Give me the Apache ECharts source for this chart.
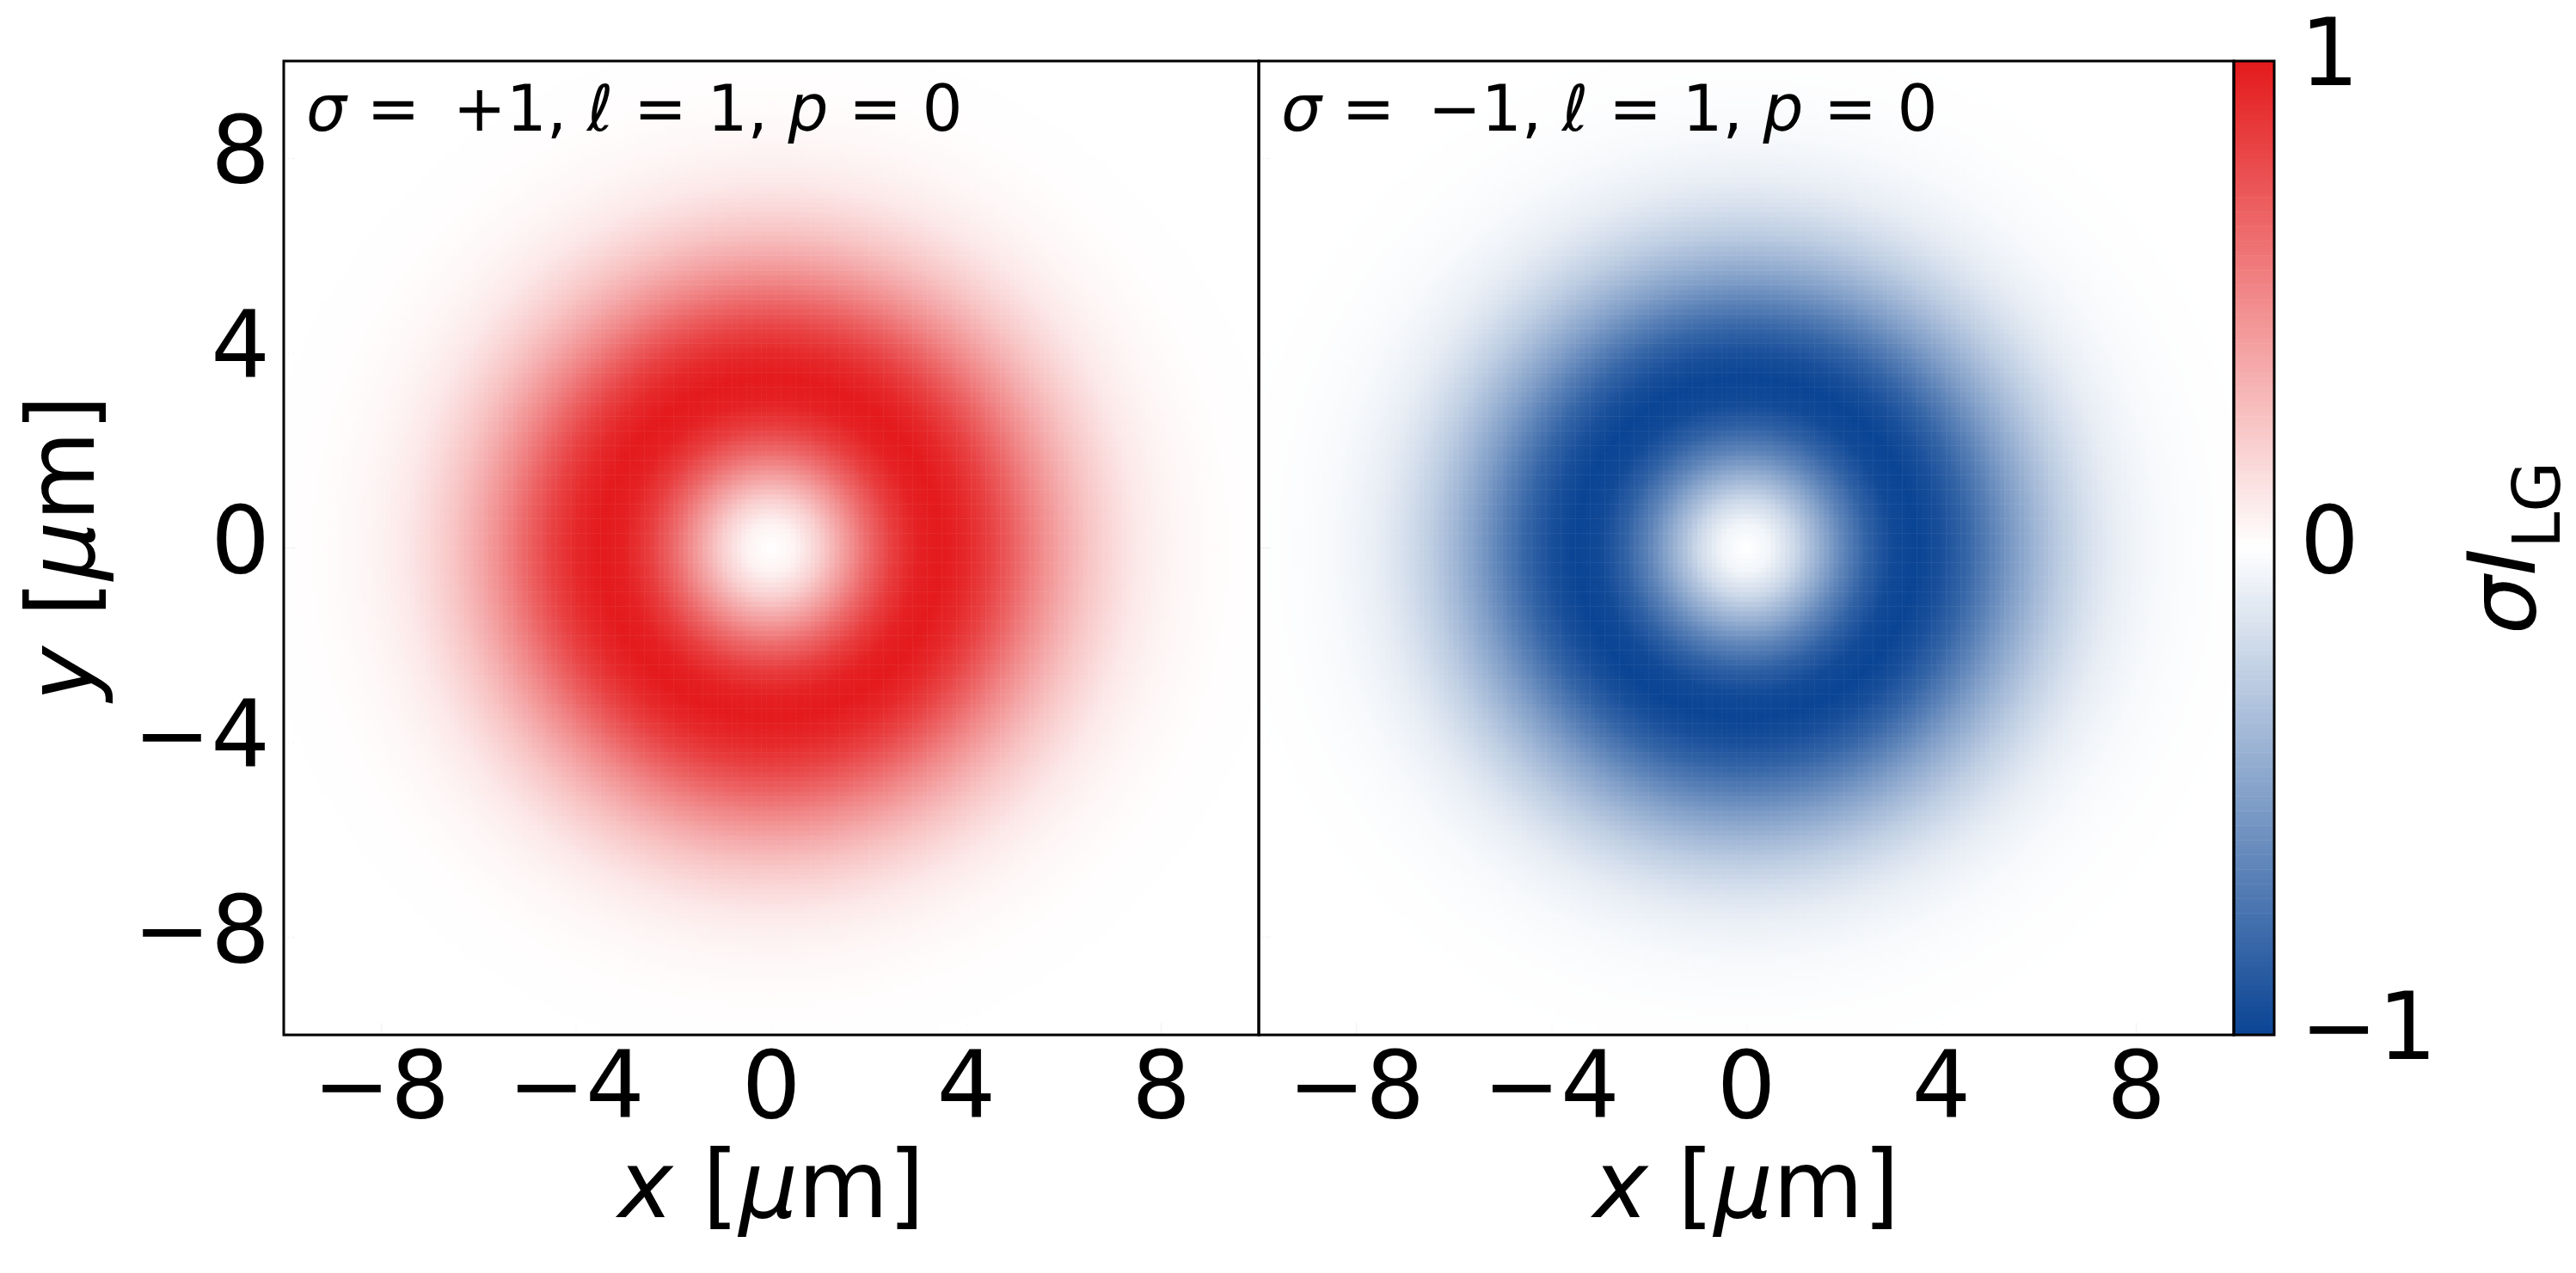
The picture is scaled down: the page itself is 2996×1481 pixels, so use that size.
<!DOCTYPE html>
<html>
<head>
<meta charset="utf-8">
<script src="https://cdn.jsdelivr.net/npm/echarts@6/dist/echarts.min.js"></script>
<style>
  html, body { margin: 0; padding: 0; background: #fff; }
  #chart { width: 2996px; height: 1481px; }
</style>
</head>
<body>
<div id="chart"></div>
<script>
// radial intensity profile of the ring (normalised, peak = 1)
const radiusUm = [0, 0.5, 1, 1.5, 2, 2.5, 3, 3.5, 4, 4.5, 5, 5.5, 6, 6.5, 7, 7.5, 8, 8.5, 9, 9.5, 10, 10.5, 11, 11.5, 12, 12.5, 13, 13.5, 14, 14.5];
const ringProfile = [0, 0.055, 0.21, 0.43, 0.66, 0.85, 0.97, 1.0, 0.94, 0.83, 0.68, 0.52, 0.38, 0.26, 0.17, 0.10, 0.06, 0.033, 0.018, 0.009, 0.004, 0.002, 0.001, 0, 0, 0, 0, 0, 0, 0];
// one panel per helicity
const panelSigma = [1, -1];
const panelSigmaText = ['+1', '−1'];
const axisRange = [-10, 10];
const axisTicks = [-8, -4, 0, 4, 8];
const colorbarRange = [-1, 1];

const N = 200; // cells per side
const NBAR = 200; // colorbar steps
const FONT = 'DejaVu Sans';
const BLUE = '#0a4494', RED = '#e41a1c';

function profileAt (r) {
  if (r >= radiusUm[radiusUm.length - 1]) return 0;
  let k = Math.floor(r / 0.5);
  let t = (r - radiusUm[k]) / 0.5;
  return ringProfile[k] * (1 - t) + ringProfile[k + 1] * t;
}

let cats = [];
for (let i = 0; i < N; i++) cats.push(i);
const step = (axisRange[1] - axisRange[0]) / N;

function buildData (sigma) {
  let out = [];
  for (let i = 0; i < N; i++) {
    let x = axisRange[0] + (i + 0.5) * step;
    for (let j = 0; j < N; j++) {
      let y = axisRange[0] + (j + 0.5) * step;
      out.push([i, j, sigma * profileAt(Math.sqrt(x * x + y * y))]);
    }
  }
  return out;
}

// colorbar ramp
let barCats = [], barData = [];
for (let j = 0; j < NBAR; j++) {
  barCats.push(j);
  barData.push([0, j, colorbarRange[0] + (j + 0.5) * (colorbarRange[1] - colorbarRange[0]) / NBAR]);
}

const minus = v => String(v).replace('-', '−');
const rich = {
  i: { fontFamily: FONT, fontSize: 108, fontStyle: 'italic', fontWeight: 'normal', color: '#000' },
  n: { fontFamily: FONT, fontSize: 108, fontWeight: 'normal', color: '#000' },
};
const axisName = v => `{i|${v}}{n| [}{i|μ}{n|m]}`;

const grids = [
  { left: 330, top: 71, width: 1134, height: 1133 },
  { left: 1464, top: 71, width: 1134, height: 1133 },
];
const barGrid = { left: 2598, top: 71, width: 58, height: 1133 };
const frame = { show: true, borderColor: '#000', borderWidth: 3, z: 10, backgroundColor: 'transparent' };

let option = {
  animation: false,
  backgroundColor: '#fff',
  title: panelSigma.map((s, k) => ({
    left: grids[k].left + 26,
    top: 96,
    padding: 0,
    text: `{i|σ}{n| = \u2009${panelSigmaText[k]}, }{i|ℓ}{n| = 1, }{i|p}{n| = 0}`,
    textStyle: {
      fontWeight: 'normal',
      rich: {
        i: { fontFamily: FONT, fontSize: 74, fontStyle: 'italic', fontWeight: 'normal', color: '#000' },
        n: { fontFamily: FONT, fontSize: 74, fontWeight: 'normal', color: '#000' },
      },
    },
  })),
  grid: [
    ...grids.map(g => Object.assign({}, frame, g)),
    Object.assign({}, frame, barGrid),
  ],
  xAxis: [
    { gridIndex: 0, type: 'category', data: cats, show: false, position: 'top' },
    { gridIndex: 1, type: 'category', data: cats, show: false, position: 'top' },
    ...[0, 1].map(k => ({
      gridIndex: k,
      type: 'value',
      position: 'bottom',
      min: axisRange[0],
      max: axisRange[1],
      axisLine: { show: false },
      splitLine: { show: false },
      axisTick: { inside: true, length: 14, customValues: axisTicks, lineStyle: { color: '#000', width: 3 } },
      axisLabel: { customValues: axisTicks, formatter: minus, fontFamily: FONT, fontSize: 108, color: '#000', margin: 14 },
      name: axisName('x'),
      nameLocation: 'middle',
      nameGap: 130,
      nameTextStyle: { rich: rich },
    })),
    { gridIndex: 2, type: 'category', data: [0], show: false },
  ],
  yAxis: [
    { gridIndex: 0, type: 'category', data: cats, show: false, position: 'right' },
    { gridIndex: 1, type: 'category', data: cats, show: false, position: 'right' },
    ...[0, 1].map(k => ({
      gridIndex: k,
      type: 'value',
      position: 'left',
      min: axisRange[0],
      max: axisRange[1],
      axisLine: { show: false },
      splitLine: { show: false },
      axisTick: { inside: true, length: 14, customValues: axisTicks, lineStyle: { color: '#000', width: 3 } },
      axisLabel: { show: k === 0, customValues: axisTicks, formatter: minus, fontFamily: FONT, fontSize: 108, color: '#000', margin: 16 },
      name: k === 0 ? axisName('y') : '',
      nameLocation: 'middle',
      nameRotate: 90,
      nameGap: 195,
      nameTextStyle: { rich: rich },
    })),
    { gridIndex: 2, type: 'category', data: barCats, show: false, position: 'left' },
    {
      gridIndex: 2,
      type: 'value',
      position: 'right',
      min: colorbarRange[0],
      max: colorbarRange[1],
      interval: 1,
      axisLine: { show: false },
      splitLine: { show: false },
      axisTick: { inside: false, length: 15, lineStyle: { color: '#000', width: 3 } },
      axisLabel: { formatter: minus, fontFamily: FONT, fontSize: 108, color: '#000', margin: 30, padding: [16, 0, 0, 0] },
      name: '{i|σI}{s|LG}',
      nameLocation: 'middle',
      nameRotate: 90,
      nameGap: 200,
      nameTextStyle: {
        rich: {
          i: { fontFamily: FONT, fontSize: 108, fontStyle: 'italic', color: '#000', lineHeight: 150, verticalAlign: 'middle' },
          s: { fontFamily: FONT, fontSize: 76, color: '#000', lineHeight: 76, verticalAlign: 'bottom' },
        },
      },
    },
  ],
  visualMap: {
    type: 'continuous',
    show: false,
    min: colorbarRange[0],
    max: colorbarRange[1],
    seriesIndex: [0, 1, 2],
    inRange: { color: [BLUE, '#ffffff', RED] },
  },
  series: [
    ...panelSigma.map((s, k) => ({
      type: 'heatmap',
      xAxisIndex: k,
      yAxisIndex: k,
      data: buildData(s),
      progressive: 0,
      silent: true,
      emphasis: { disabled: true },
    })),
    {
      type: 'heatmap',
      xAxisIndex: 4,
      yAxisIndex: 4,
      data: barData,
      progressive: 0,
      silent: true,
      emphasis: { disabled: true },
    },
  ],
};

let chart = echarts.init(document.getElementById('chart'));
chart.setOption(option);
</script>
</body>
</html>
